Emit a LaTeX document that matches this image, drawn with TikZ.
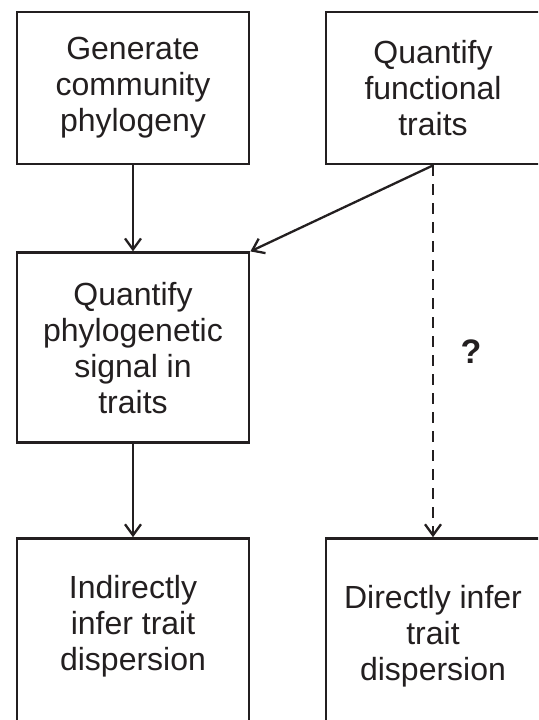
\documentclass[tikz,border=0pt]{standalone}
\usepackage{fontspec}
\setmainfont{Liberation Sans}
\usepackage{xcolor}
\definecolor{inkgray}{HTML}{231F20}
\usepackage{tikz}
\usetikzlibrary{arrows.meta, positioning}

\begin{document}
\begin{tikzpicture}[
  x=1pt, y=1pt,
  box/.style={rectangle, draw=inkgray, line width=2.8pt, text=inkgray, align=center,
    minimum width=232pt, inner sep=0pt,
    font=\fontsize{32}{36}\selectfont},
  rbox/.style={box, minimum width=214pt},
  arrow/.style={-{Straight Barb[length=11pt, width=16pt]}, line width=2.3pt, draw=inkgray},
  dasharrow/.style={arrow, dash pattern=on 11pt off 8pt}
]
\path[use as bounding box, clip] (0,0) rectangle (538,-720);
\node[box, minimum height=152pt] (gen) at (133,-88) {Generate\\community\\phylogeny};
\node[rbox, minimum height=152pt] (quant) at (433,-88) {Quantify\\functional\\traits};
\node[box, minimum height=190pt, below=86pt of gen] (signal) {Quantify\\phylogenetic\\signal in\\traits};
\node[box, minimum height=195pt, text depth=26pt, below=93pt of signal] (indirect) {Indirectly\\infer trait\\dispersion};
\node[rbox, minimum height=195pt, anchor=north] (direct) at (quant.south |- indirect.north) {Directly infer\\trait\\dispersion};
\node[font=\bfseries\fontsize{34}{38}\selectfont, text=inkgray] (qmark) at (471,-352) {?};
\draw[arrow] (gen) -- (signal);
\draw[arrow] (quant.south) -- (signal.north east);
\draw[arrow] (signal) -- (indirect);
\draw[dasharrow] (quant.south) -- (direct.north);
\end{tikzpicture}
\end{document}
